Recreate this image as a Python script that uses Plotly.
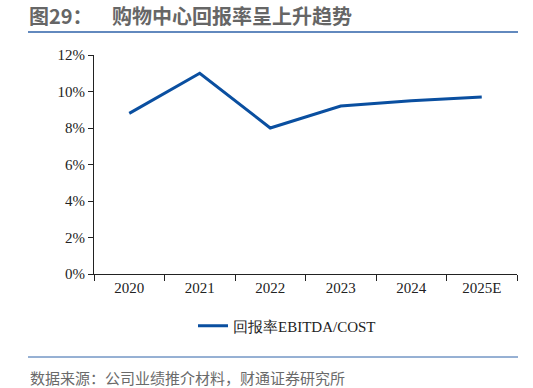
import plotly.graph_objects as go

years = ["2020", "2021", "2022", "2023", "2024", "2025E"]
ratio = [0.088, 0.110, 0.080, 0.092, 0.095, 0.097]
y_ticks = [0, 0.02, 0.04, 0.06, 0.08, 0.10, 0.12]
y_tick_labels = ["0%", "2%", "4%", "6%", "8%", "10%", "12%"]
series_name = "回报率EBITDA/COST"
title_num = "图29："
title_text = "购物中心回报率呈上升趋势"
source_text = "数据来源：公司业绩推介材料，财通证券研究所"

W, H = 533, 388
L, R, T, B = 94, 517, 55, 274
pw, ph = R - L, B - T

def px_x(x):
    return (x - L) / pw

def px_y(y):
    return (B - y) / ph

fig = go.Figure()
fig.add_trace(go.Scatter(
    x=years, y=ratio, mode="lines", name=series_name,
    line=dict(color="#0A4FA0", width=3),
))

serif = "Liberation Serif, Times New Roman, serif"
sans = "Noto Sans CJK SC, sans-serif"

fig.update_layout(
    width=W, height=H,
    margin=dict(l=L, r=W - R, t=T, b=H - B, autoexpand=False),
    paper_bgcolor="white", plot_bgcolor="white",
    showlegend=True,
    legend=dict(orientation="h", x=px_x(193), xanchor="left", yref="container",
                y=1 - 326 / H, yanchor="middle",
                font=dict(family=serif, size=15, color="#222222")),
    xaxis=dict(
        type="category", range=[-0.5, 5.5], showgrid=False, showline=True,
        linecolor="#222222", linewidth=1,
        ticks="outside", tickson="boundaries", ticklen=6, tickcolor="#222222",
        tickfont=dict(family=serif, size=15, color="#222222"), fixedrange=True,
        automargin=False,
    ),
    yaxis=dict(
        range=[0, 0.12], tickvals=y_ticks, ticktext=y_tick_labels,
        showgrid=False, showline=True, linecolor="#222222", linewidth=1,
        ticks="outside", ticklen=5, tickcolor="#222222", zeroline=False,
        tickfont=dict(family=serif, size=15, color="#222222"), fixedrange=True,
        automargin=False,
    ),
    shapes=[
        dict(type="line", xref="paper", yref="paper", x0=px_x(28), x1=px_x(518),
             y0=px_y(32), y1=px_y(32), line=dict(color="#2E62A8", width=1.5)),
        dict(type="line", xref="paper", yref="paper", x0=px_x(28), x1=px_x(518),
             y0=px_y(357), y1=px_y(357), line=dict(color="#2E62A8", width=1)),
    ],
    annotations=[
        dict(text="<b>" + title_num + "</b>", xref="paper", yref="paper", x=px_x(27), y=px_y(16),
             xanchor="left", yanchor="middle", showarrow=False,
             font=dict(family=sans, size=20, color="#666666")),
        dict(text="<b>" + title_text + "</b>", xref="paper", yref="paper", x=px_x(110), y=px_y(16),
             xanchor="left", yanchor="middle", showarrow=False,
             font=dict(family=sans, size=20, color="#666666")),
        dict(text=source_text, xref="paper", yref="paper", x=px_x(28), y=px_y(377),
             xanchor="left", yanchor="middle", showarrow=False,
             font=dict(family=sans, size=15, color="#6A6A6A")),
    ],
)

fig.write_html("out.html", config={"displayModeBar": False},
               post_script="document.body.style.margin='0';document.body.style.padding='0';")
